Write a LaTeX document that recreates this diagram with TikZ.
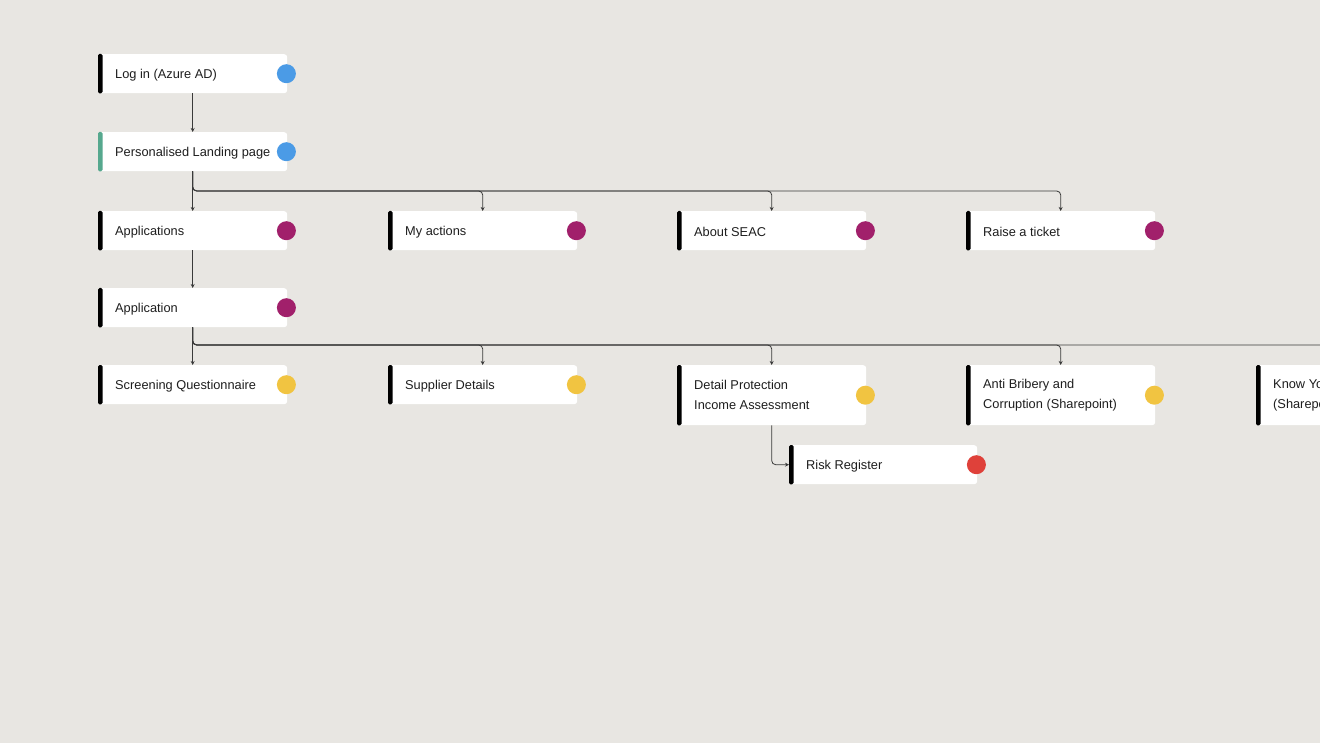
\documentclass[tikz,border=0pt]{standalone}
\usepackage{fontspec}
\setmainfont{Liberation Sans}
\usetikzlibrary{arrows.meta,calc}
\definecolor{bg}{HTML}{E8E6E2}
\definecolor{dblue}{HTML}{4B9BE6}
\definecolor{dmag}{HTML}{A1206B}
\definecolor{dyel}{HTML}{F1C441}
\definecolor{dred}{HTML}{DF413A}
\definecolor{teal}{HTML}{56A88E}
\definecolor{txt}{HTML}{1E1E1E}
\definecolor{lin}{HTML}{3A3A3A}
\tikzset{
  card/.style={fill=white, rounded corners=3pt, inner sep=0pt, anchor=north west},
  cardlabel/.style={anchor=west, align=left, inner sep=0pt, text=txt, font=\fontsize{12.8}{20}\selectfont},
  dotnode/.style={circle, minimum size=19pt, inner sep=0pt},
  conn/.style={draw=lin, line width=0.8pt, -{Stealth[length=4pt,width=4pt]}},
}
% name, x, y, h, text, barcolor, dotcolor, width, label y-shift (down)
\newcommand{\mkcard}[9]{%
  \node[card, minimum height=#4pt, minimum width=#8pt] (#1) at (#2,#3) {};
  \fill[#6, rounded corners=1.5pt] (#1.north west) rectangle ([xshift=4.5pt]#1.south west);
  \node[cardlabel] (#1-t) at ([xshift=17pt,yshift=-#9pt]#1.west) {#5};
  \node[dotnode, fill=#7] (#1-d) at ([xshift=-1pt]#1.east) {};
}
\begin{document}
\begin{tikzpicture}[x=1pt,y=-1pt]
\useasboundingbox (0,0) rectangle (1320,743);
\fill[bg] (0,0) rectangle (1320,743);
\clip (0,0) rectangle (1320,743);
\mkcard{login}{98}{54}{39}{Log in (Azure AD)}{black}{dblue}{189}{1.5}
\mkcard{landing}{98}{132}{39}{Personalised Landing page}{teal}{dblue}{189}{1.5}
\mkcard{apps}{98}{211}{39}{Applications}{black}{dmag}{189}{1.5}
\mkcard{myact}{388}{211}{39}{My actions}{black}{dmag}{189}{1.5}
\mkcard{about}{677}{211}{39}{About SEAC}{black}{dmag}{189}{1.5}
\mkcard{ticket}{966}{211}{39}{Raise a ticket}{black}{dmag}{189}{1.5}
\mkcard{app}{98}{288}{39}{Application}{black}{dmag}{189}{1.5}
\mkcard{screen}{98}{365}{39}{Screening Questionnaire}{black}{dyel}{189}{1.5}
\mkcard{supp}{388}{365}{39}{Supplier Details}{black}{dyel}{189}{1.5}
\mkcard{detail}{677}{365}{60}{Detail Protection\\Income Assessment}{black}{dyel}{189}{0}
\mkcard{abc}{966}{365}{60}{Anti Bribery and\\Corruption (Sharepoint)}{black}{dyel}{189}{0}
\mkcard{kyc}{1256}{365}{60}{Know Your Customer\\(Sharepoint)}{black}{dyel}{189}{0}
\mkcard{risk}{789}{445}{39}{Risk Register}{black}{dred}{188}{1.5}

\coordinate (b1) at (193,191);
\coordinate (b2) at (193,345);
\draw[conn] (login.south) -- (landing.north);
\draw[conn] (landing.south) -- (apps.north);
\draw[conn, rounded corners=4pt] (landing.south) |- (myact.north |- b1) -- (myact.north);
\draw[conn, rounded corners=4pt] (landing.south) |- (about.north |- b1) -- (about.north);
\draw[conn, rounded corners=4pt] (landing.south) |- (ticket.north |- b1) -- (ticket.north);
\draw[conn] (apps.south) -- (app.north);
\draw[conn] (app.south) -- (screen.north);
\draw[conn, rounded corners=4pt] (app.south) |- (supp.north |- b2) -- (supp.north);
\draw[conn, rounded corners=4pt] (app.south) |- (detail.north |- b2) -- (detail.north);
\draw[conn, rounded corners=4pt] (app.south) |- (abc.north |- b2) -- (abc.north);
\draw[conn, rounded corners=4pt] (app.south) |- (kyc.north |- b2) -- (kyc.north);
\draw[conn, rounded corners=4pt] (detail.south) |- (risk.west);
\end{tikzpicture}
\end{document}
